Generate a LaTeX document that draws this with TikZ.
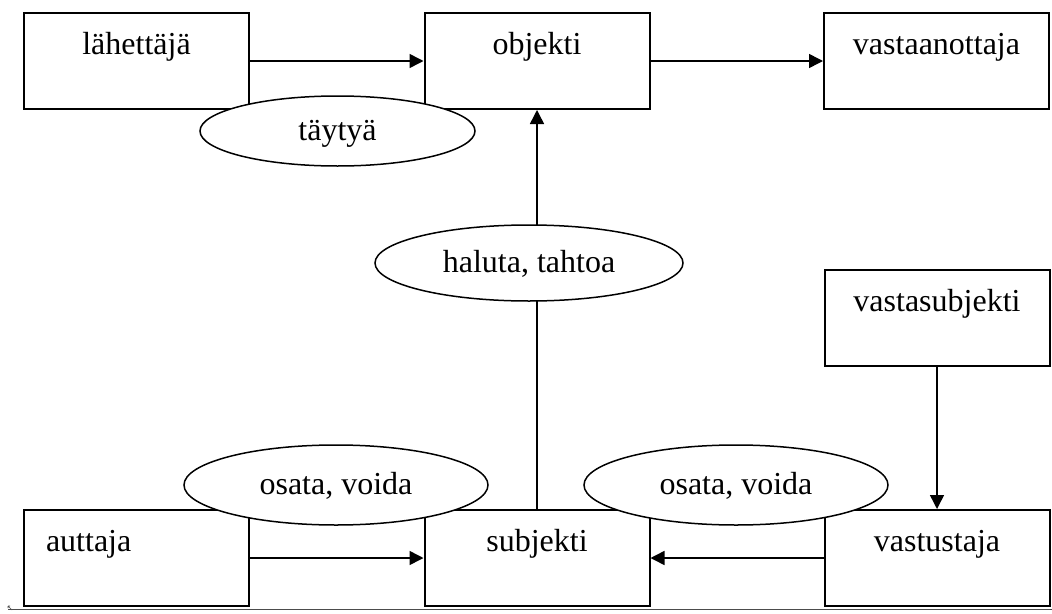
\documentclass[tikz,border=0pt]{standalone}
\usepackage{fontspec}
\setmainfont{Liberation Serif}
\usetikzlibrary{arrows.meta,shapes.geometric}
\begin{document}
\begin{tikzpicture}[x=1pt,y=-1pt,
  box/.style={draw,line width=2pt,rectangle,minimum width=225pt,inner sep=0pt,
    text height=41pt,text depth=55pt,font=\fontsize{32}{38}\selectfont},
  oval/.style={draw,line width=1.5pt,ellipse,fill=white,inner sep=0pt,
    text height=22pt,text depth=4pt,font=\fontsize{32}{38}\selectfont},
  arr/.style={line width=1.5pt,-{Triangle[length=14pt,width=14pt]}}]
\useasboundingbox (0,0) rectangle (1052,613);
% boxes
\node[box] (lah) at (136.5,61) {lähettäjä};
\node[box] (obj) at (537,61) {objekti};
\node[box] (vas) at (936.5,61) {vastaanottaja};
\node[box] (vsub) at (937,318) {vastasubjekti};
\node[box,text width=181pt,align=left,inner xsep=22pt] (aut) at (136.5,558) {auttaja};
\node[box] (sub) at (537,558) {subjekti};
\node[box] (vust) at (937,558) {vastustaja};
% connectors
\draw[arr] (lah) -- (obj);
\draw[arr] (obj) -- (vas);
\draw[arr] (sub) -- (obj);
\draw[arr] (vsub) -- (vust);
\draw[arr] (aut) -- (sub);
\draw[arr] (vust) -- (sub);
% ellipses
\node[oval,minimum width=275pt,minimum height=70pt] (tay) at (337.5,131) {täytyä};
\node[oval,minimum width=308pt,minimum height=76pt] (hal) at (529,263) {haluta, tahtoa};
\node[oval,minimum width=304pt,minimum height=80pt] (os1) at (336,485) {osata, voida};
\node[oval,minimum width=304pt,minimum height=80pt] (os2) at (736,485) {osata, voida};
% bottom rule
\coordinate (bl) at (8,609);
\coordinate (br) at (1052,609);
\draw[line width=0.8pt,black!70] (bl) -- (br);
\draw[line width=0.6pt,black!70] (8,606) -- (12,610) (8,606) -- (8,608) (8,606) -- (10,606);
\end{tikzpicture}
\end{document}
